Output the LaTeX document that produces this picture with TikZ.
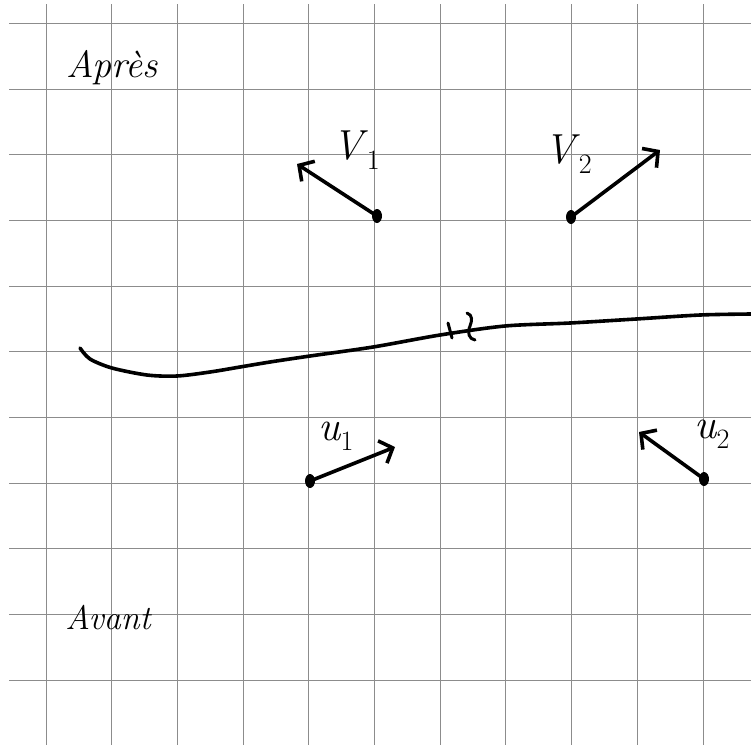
\documentclass[tikz,border=0pt]{standalone}
\usetikzlibrary{arrows.meta,shapes.geometric}
\newcommand{\sublab}[2]{\textit{#1}\kern-1pt\raisebox{-0.25em}{\fontsize{28}{30}\selectfont #2}}
\begin{document}
\begin{tikzpicture}[x=1pt,y=-1pt,
  gridline/.style={draw=black!45,line width=1pt},
  ink/.style={draw=black,line width=3.6pt,line cap=round,line join=round},
  vec/.style={ink,-{Straight Barb[length=11pt,width=24pt,line width=3.6pt]}},
  dot/.style={ellipse,fill=black,inner sep=0pt,minimum width=10pt,minimum height=14pt},
  lab/.style={font=\fontsize{42}{46}\selectfont,inner sep=0pt},
  word/.style={font=\itshape\fontsize{38}{42}\selectfont,inner sep=0pt}]
\useasboundingbox (0,0) rectangle (751,745);
\fill[white] (0,0) rectangle (751,745);
% grid
\foreach \i in {0,...,10} {
  \draw[gridline] ({46+65.7*\i},4) -- ({46+65.7*\i},745);
  \draw[gridline] (9,{23.5+65.65*\i}) -- (751,{23.5+65.65*\i});
}
% curve
\draw[ink] plot[smooth,tension=0.5] coordinates {(80,348) (90,359) (112,368) (147,375) (177,376) (210,372) (240,367) (270,362) (310,356) (373,347) (440,335) (505,326) (570,323) (636,319) (700,315) (751,314)};
\draw[ink,line width=3pt] (448,323) -- (452,338);
\draw[ink,line width=3pt] (467,313) .. controls (473,315) and (472,321) .. (470,326) .. controls (467,333) and (469,339) .. (475,340);
% dots
\node[dot] (d1) at (377,216) {};
\node[dot] (d2) at (571,217) {};
\node[dot] (d3) at (310,481) {};
\node[dot] (d4) at (704,479) {};
\coordinate (e1) at (297,164);
\coordinate (e2) at (660,150);
\coordinate (e3) at (395,447);
\coordinate (e4) at (639,432);
\draw[vec] (d1.center) -- (e1);
\draw[vec] (d2.center) -- (e2);
\draw[vec] (d3.center) -- (e3);
\draw[vec] (d4.center) -- (e4);
% labels
\node[lab] (lv1) at (356,150) {\sublab{V}{1}};
\node[lab] (lv2) at (568,154) {\sublab{V}{2}};
\node[lab] (lu1) at (336,436) {\sublab{u}{1}};
\node[lab] (lu2) at (712,434) {\sublab{u}{2}};
\node[word] (ap) at (112,68) {Après};
\node[word,font=\itshape\fontsize{34}{38}\selectfont] (av) at (108,618) {Avant};
\end{tikzpicture}
\end{document}
